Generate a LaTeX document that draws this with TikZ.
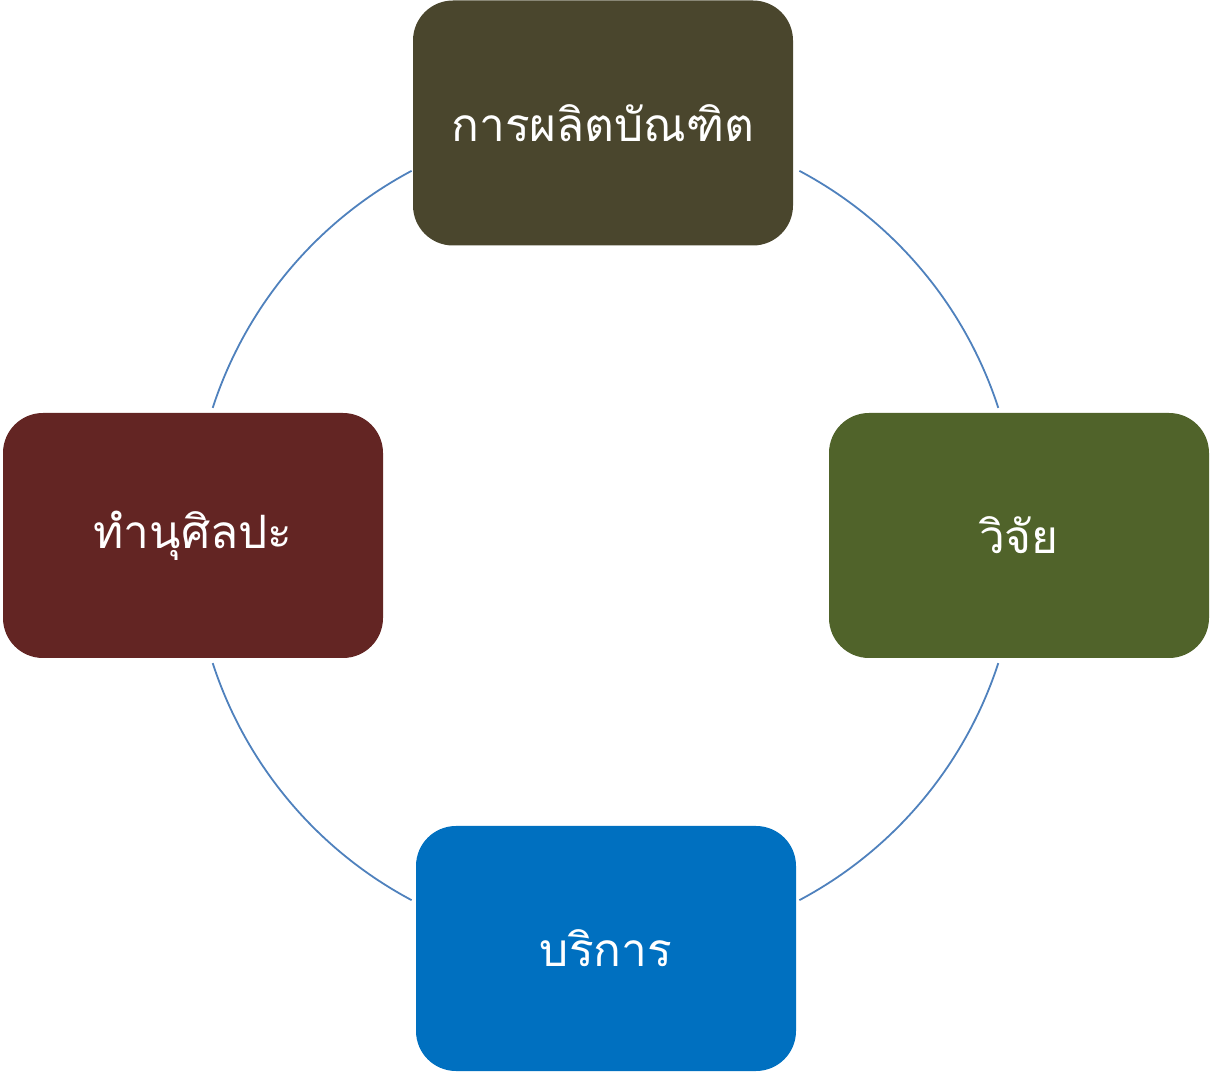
\documentclass[tikz,border=0pt]{standalone}
\usepackage{fontspec}
\newfontfamily\thaifont[Script=Thai]{Loma}
\definecolor{cTop}{HTML}{4A462D}
\definecolor{cRight}{HTML}{50632A}
\definecolor{cBottom}{HTML}{0070C0}
\definecolor{cLeft}{HTML}{632523}
\definecolor{cArc}{HTML}{4F81BD}
\begin{document}
\begin{tikzpicture}[x=0.5pt,y=0.5pt,
  box/.style={rounded corners=20pt, minimum width=190pt, minimum height=122.5pt,
    inner sep=0pt, text=white, font=\thaifont\fontsize{23}{28}\selectfont},
  link/.style={draw=cArc, line width=0.9pt}]
\useasboundingbox (0,0) rectangle (1211,1072);
\coordinate (c) at (605.5,536.5);
\node[box, fill=cTop] (top) at (603,949) {การผลิตบัณฑิต};
\node[box, fill=cRight] (right) at (1019,536.5) {วิจัย};
\node[box, fill=cBottom] (bottom) at (606,123.5) {บริการ};
\node[box, fill=cLeft] (left) at (193,536.5) {ทำนุศิลปะ};
\draw[link] ([shift={(62:413)}]c) arc (62:18:413);
\draw[link] ([shift={(-18:413)}]c) arc (-18:-62:413);
\draw[link] ([shift={(-118:413)}]c) arc (-118:-162:413);
\draw[link] ([shift={(162:413)}]c) arc (162:118:413);
\end{tikzpicture}
\end{document}
